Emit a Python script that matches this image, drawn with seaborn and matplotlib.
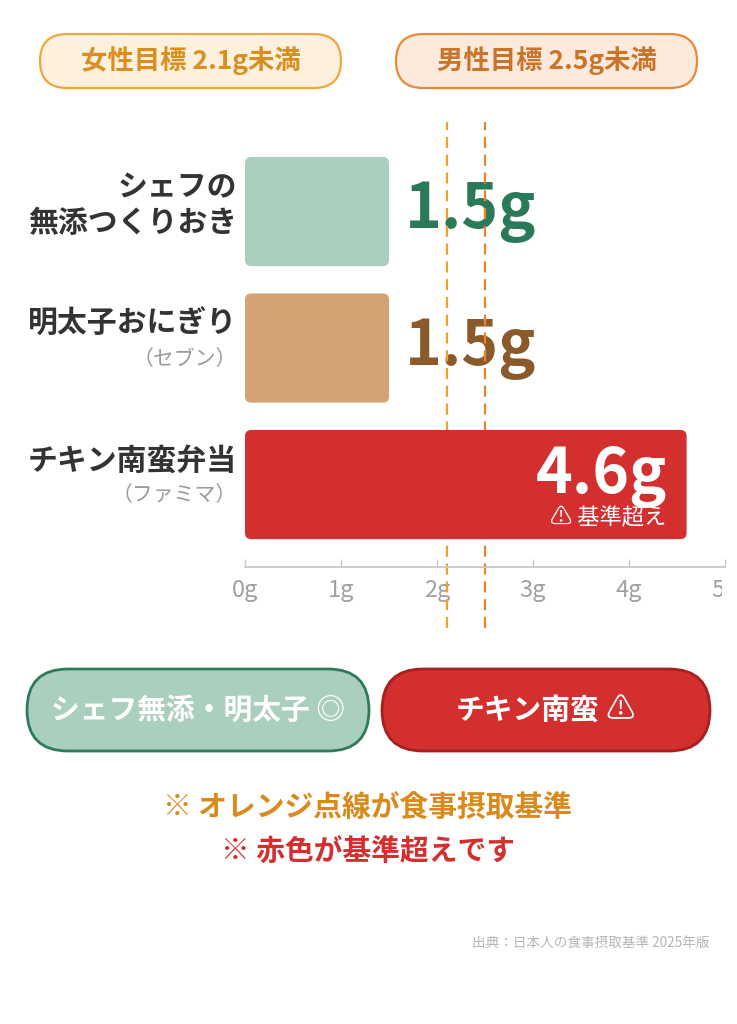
import matplotlib
matplotlib.use("Agg")
import matplotlib.pyplot as plt
import matplotlib.transforms as mtransforms
from matplotlib.patches import FancyBboxPatch
import seaborn as sns
import pandas as pd

# data
foods = ["シェフの無添つくりおき", "明太子おにぎり", "チキン南蛮弁当"]
label_top = ["シェフの", "明太子おにぎり", "チキン南蛮弁当"]
label_bottom = ["無添つくりおき", "（セブン）", "（ファミマ）"]
bottom_is_note = [False, True, True]
salt_g = [1.5, 1.5, 4.6]
bar_colors = ["#abcfbf", "#d4a373", "#d32f2f"]
value_colors = ["#2a7a5a", "#8b5a2b", "#ffffff"]
targets = [2.1, 2.5]
target_colors = ["#f0a030", "#e8852a"]
target_labels = ["女性目標 2.1g未満", "男性目標 2.5g未満"]
x_ticks = [0, 1, 2, 3, 4, 5]
x_tick_labels = ["0g", "1g", "2g", "3g", "4g", "5g"]
summary_labels = ["シェフ無添・明太子 ◎", "チキン南蛮"]
summary_marks = ["", " ⚠"]
over_label = "⚠ 基準超え"
notes = ["※ オレンジ点線が食事摂取基準", "※ 赤色が基準超えです"]
source = "出典：日本人の食事摂取基準 2025年版"

sns.set_theme(style="white")
JP = ['Noto Sans CJK JP', 'DejaVu Sans']
plt.rcParams['font.family'] = JP

W, H = 737, 1024
fig = plt.figure(figsize=(W / 100, H / 100), dpi=100)
fig.patch.set_facecolor("white")

# background layer in pixel coords for pills / notes
bg = fig.add_axes([0, 0, 1, 1], zorder=0)
bg.set_xlim(0, W)
bg.set_ylim(H, 0)
bg.axis("off")

# main chart
ax = fig.add_axes([245 / W, (H - 567) / H, 480 / W, 445 / H], zorder=1)
ax.set_facecolor("none")
df = pd.DataFrame({"food": foods, "salt": salt_g})
sns.barplot(data=df, x="salt", y="food", hue="food", palette=bar_colors,
            orient="h", width=0.8, saturation=1, legend=False, ax=ax)
ax.set_xlim(0, 5)
ax.set_ylim(2.604, -0.656)

# rounded bars
asp = (3.26 / 445) / (5 / 480)
for p in list(ax.patches):
    x0, y0, w, h = p.get_x(), p.get_y(), p.get_width(), p.get_height()
    fc = p.get_facecolor()
    p.remove()
    ax.add_patch(FancyBboxPatch((x0, y0), w, h,
                                boxstyle="round,pad=0,rounding_size=0.065",
                                mutation_aspect=asp, fc=fc, ec="none", zorder=3))

# target lines
for t, c in zip(targets, target_colors):
    ax.axvline(t, ymin=-0.137, ymax=1, color=c, lw=1.6, ls=(0, (5, 3)),
               clip_on=False, zorder=2)

# value labels
limit = max(targets)
for i, (v, c) in enumerate(zip(salt_g, value_colors)):
    if v > limit:
        ax.text(v - 0.2, i - 0.06, f"{v}g", ha="right", va="center", fontsize=45,
                fontweight="bold", color=c, zorder=4)
        ax.text(v - 0.21, i + 0.245, over_label, ha="right", va="center", fontsize=16,
                color=c, zorder=4)
    else:
        ax.text(v + 0.17, i, f"{v}g", ha="left", va="center", fontsize=45,
                fontweight="bold", color=c, zorder=1)

# category labels
trans = mtransforms.blended_transform_factory(ax.transAxes, ax.transData)
for i, (a, b, note) in enumerate(zip(label_top, label_bottom, bottom_is_note)):
    ax.text(-0.017, i - 0.176, a, transform=trans, ha="right", va="center",
            fontsize=21.5, fontweight="bold", color="#333333")
    if note:
        ax.text(-0.017, i + 0.08, b, transform=trans, ha="right", va="center",
                fontsize=15, color="#9a9a9a")
    else:
        ax.text(-0.017, i + 0.085, b, transform=trans, ha="right", va="center",
                fontsize=21.5, fontweight="bold", color="#333333")

# axes styling
for s in ["left", "top", "right"]:
    ax.spines[s].set_visible(False)
ax.spines["bottom"].set_color("#c8c8c8")
ax.spines["bottom"].set_linewidth(1.3)
ax.set_yticks([])
ax.set_xlabel("")
ax.set_ylabel("")
ax.set_xticks(x_ticks, x_tick_labels)
ax.tick_params(axis="x", direction="in", length=6, width=1, color="#c8c8c8",
               labelcolor="#a0a0a0", labelsize=17, pad=9, bottom=True)
clip = mtransforms.TransformedBbox(mtransforms.Bbox([[0, 0], [722 / W, 1]]), fig.transFigure)
for lbl in ax.get_xticklabels():
    lbl.set_clip_box(clip)
    lbl.set_clip_on(True)

# top pills
pill_top = [((40, 34, 301, 54), "#fdf0dc", "#f0a63a", "#d98f1f"),
            ((396, 34, 301, 54), "#fdeadd", "#e8893a", "#c8742a")]
for lab, ((x, y, w, h), fc, ec, tc) in zip(target_labels, pill_top):
    bg.add_patch(FancyBboxPatch((x, y), w, h, boxstyle=f"round,pad=0,rounding_size={h/2}",
                                fc=fc, ec=ec, lw=1.6))
    bg.text(x + w / 2, y + h / 2, lab, ha="center", va="center", fontsize=19,
            fontweight="bold", color=tc)

# bottom pills (text centred as a whole; the warning mark is drawn in regular weight)
pill_bot = [((27, 669, 342, 82), "#abcfbf", "#2e7a5a", 0),
            ((382, 669, 328, 82), "#d32f2f", "#a5201f", 18)]
for lab, mark, ((x, y, w, h), fc, ec, shift) in zip(summary_labels, summary_marks, pill_bot):
    bg.add_patch(FancyBboxPatch((x, y), w, h, boxstyle=f"round,pad=0,rounding_size={h/2}",
                                fc=fc, ec=ec, lw=2))
    t = bg.text(x + w / 2 - shift, y + h / 2, lab, ha="center", va="center", fontsize=20.7,
                fontweight="bold", color="white")
    if mark:
        bg.annotate(mark, xy=(1, 0.5), xycoords=t, ha="left", va="center",
                    fontsize=20.7, color="white")

# notes
bg.text(368, 808, notes[0], ha="center", va="center", fontsize=20.7,
        fontweight="bold", color="#d98a1a")
bg.text(368, 852, notes[1], ha="center", va="center", fontsize=20.7,
        fontweight="bold", color="#d32f2f")
bg.text(710, 943, source, ha="right", va="center", fontsize=9.8,
        color="#b5b5b5")

fig.savefig("out.png", dpi=100, facecolor="white")
